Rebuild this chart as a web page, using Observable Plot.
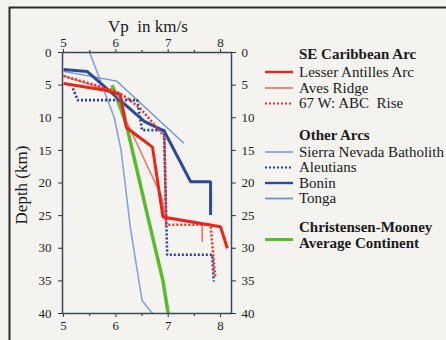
<!DOCTYPE html>
<html><head><meta charset="utf-8">
<script src="https://cdn.jsdelivr.net/npm/d3@7"></script>
<script src="https://cdn.jsdelivr.net/npm/@observablehq/plot@0.6"></script>
<style>
html,body{margin:0;padding:0;background:#f4f3f0;}
#chart{width:446px;height:340px;overflow:hidden;position:relative;}
#chart svg text{font-family:"Liberation Serif","Times New Roman",Times,serif !important;}
</style></head><body><div id="chart"></div>
<script>
// Axis ticks
const xTicks = [5, 6, 7, 8];
const xMinorTicks = [5.5, 6.5, 7.5];
const yTicks = [0, 5, 10, 15, 20, 25, 30, 35, 40];

// Series (Vp in km/s vs depth in km)
const lesserVp    = [5.0, 5.8, 6.08, 6.2, 6.7, 6.9, 8.0, 8.13];
const lesserDepth = [4.75, 5.8, 6.4, 11.5, 14.5, 25.2, 26.7, 30.0];

const avesVp    = [5.0, 5.95, 6.12, 6.2, 6.87, 6.95, 7.65, 7.65];
const avesDepth = [3.6, 6.0, 7.5, 10.5, 22.0, 25.4, 26.3, 29.0];

const abcVp    = [5.0, 5.96, 6.22, 6.47, 6.93, 6.96, 7.81, 7.9];
const abcDepth = [3.6, 5.8, 7.0, 8.6, 12.9, 26.4, 26.4, 34.6];

const sierraVp    = [5.5, 5.97, 6.1, 6.28, 6.5, 6.7];
const sierraDepth = [0, 10, 15, 27, 38, 40];

const aleutVp    = [5.18, 5.27, 6.41, 6.5, 6.92, 6.98, 7.84, 7.87];
const aleutDepth = [5.5, 7.3, 7.3, 11.9, 11.9, 31.0, 31.0, 35.1];

const boninVp    = [5.0, 5.45, 6.55, 6.92, 7.43, 7.81, 7.81];
const boninDepth = [2.6, 2.9, 10.6, 12.0, 19.8, 19.8, 24.9];

const tongaVp    = [5.0, 6.02, 7.3];
const tongaDepth = [2.9, 4.4, 13.9];

const cmVp    = [5.93, 6.2, 6.62, 6.9, 7.0];
const cmDepth = [5.0, 11.0, 25.5, 35.0, 40.0];

const seriesNames = ["Lesser Antilles Arc", "Aves Ridge", "67 W: ABC  Rise",
  "Sierra Nevada Batholith", "Aleutians", "Bonin", "Tonga", "Christensen-Mooney"];

const styles = {
  "Lesser Antilles Arc": {stroke: "#e6261b", strokeWidth: 3},
  "Aves Ridge": {stroke: "#f07868", strokeWidth: 1.6},
  "67 W: ABC  Rise": {stroke: "#e4352a", strokeWidth: 2.6, strokeDasharray: "2,2"},
  "Sierra Nevada Batholith": {stroke: "#86a2dc", strokeWidth: 1.6},
  "Aleutians": {stroke: "#2c3f9e", strokeWidth: 2.6, strokeDasharray: "2,2"},
  "Bonin": {stroke: "#2c4a9a", strokeWidth: 3},
  "Tonga": {stroke: "#6a92d6", strokeWidth: 1.3},
  "Christensen-Mooney": {stroke: "#5cba2e", strokeWidth: 3.5}
};

const seriesData = {
  "Lesser Antilles Arc": [lesserVp, lesserDepth],
  "Aves Ridge": [avesVp, avesDepth],
  "67 W: ABC  Rise": [abcVp, abcDepth],
  "Sierra Nevada Batholith": [sierraVp, sierraDepth],
  "Aleutians": [aleutVp, aleutDepth],
  "Bonin": [boninVp, boninDepth],
  "Tonga": [tongaVp, tongaDepth],
  "Christensen-Mooney": [cmVp, cmDepth]
};

const drawOrder = ["Sierra Nevada Batholith", "Tonga", "Christensen-Mooney", "Aleutians",
  "Bonin", "Aves Ridge", "67 W: ABC  Rise", "Lesser Antilles Arc"];

const lineMarks = drawOrder.map(name => {
  const [vp, dep] = seriesData[name];
  const rows = vp.map((v, i) => ({vp: v, depth: dep[i]}));
  return Plot.line(rows, {x: "vp", y: "depth", ...styles[name], strokeLinejoin: "miter", strokeLinecap: "butt"});
});

const FONT = "Liberation Serif, Times New Roman, serif";
const W = 446, H = 340;
const axisStyle = {fontSize: 13, fontFamily: FONT, tickFormat: d => String(d), label: null, stroke: "#333", color: "#222"};
const plot = Plot.plot({
  width: W, height: H,
  marginLeft: 62, marginRight: 215, marginTop: 52, marginBottom: 27,
  style: {fontFamily: FONT, fontSize: "13px", background: "transparent", color: "#222"},
  x: {domain: [4.98, 8.21]},
  y: {domain: [0, 40], reverse: true},
  marks: [
    Plot.axisX({anchor: "top", ticks: xTicks, tickSize: 4, tickPadding: 2, ...axisStyle}),
    Plot.axisX({anchor: "top", ticks: xMinorTicks, tickSize: 3, tickFormat: () => "", label: null}),
    Plot.axisX({anchor: "bottom", ticks: xTicks, tickSize: 4, tickPadding: 3, ...axisStyle}),
    Plot.axisX({anchor: "bottom", ticks: xMinorTicks, tickSize: 3, tickFormat: () => "", label: null}),
    Plot.axisY({anchor: "left", ticks: yTicks, tickSize: 4, tickPadding: 7, ...axisStyle}),
    Plot.axisY({anchor: "right", ticks: yTicks, tickSize: 4, tickPadding: 6, ...axisStyle}),
    ...lineMarks,
    Plot.frame({stroke: "#3b4658", strokeWidth: 1.5})
  ]
});
document.getElementById("chart").appendChild(plot);

const svg = d3.select(plot);
// outer border
svg.append("rect").attr("x", 9.5).attr("y", 7.5).attr("width", 470).attr("height", 370)
  .attr("fill", "none").attr("stroke", "#2a2a2a").attr("stroke-width", 2);

const txt = (sel) => sel.attr("fill", "#1a1a1a");
// title
txt(svg.append("text")).attr("x", 148).attr("y", 32).attr("text-anchor", "middle")
  .style("font-size", "17px").text("Vp  in km/s");
// y label
txt(svg.append("text")).attr("transform", "translate(27,185) rotate(-90)").attr("text-anchor", "middle")
  .style("font-size", "17px").text("Depth (km)");

// legend
const legendRows = [
  {type: "head", text: "SE Caribbean Arc", y: 59},
  {type: "item", name: "Lesser Antilles Arc", y: 76.5},
  {type: "item", name: "Aves Ridge", y: 92.5},
  {type: "item", name: "67 W: ABC  Rise", y: 108},
  {type: "head", text: "Other Arcs", y: 140},
  {type: "item", name: "Sierra Nevada Batholith", y: 156.5},
  {type: "item", name: "Aleutians", y: 172},
  {type: "item", name: "Bonin", y: 187.5},
  {type: "item", name: "Tonga", y: 203},
  {type: "head", text: "Christensen-Mooney", y: 231.5},
  {type: "head", text: "Average Continent", y: 248},
];
const lg = svg.append("g");
legendRows.forEach(r => {
  const t = txt(lg.append("text")).attr("x", 299).attr("y", r.y)
    .attr("text-anchor", "start").style("text-anchor", "start")
    .style("font-size", "15px").style("white-space", "pre")
    .text(r.type === "head" ? r.text : r.name);
  if (r.type === "head") t.style("font-weight", "bold");
  if (r.type === "item") {
    const s = styles[r.name];
    lg.append("line").attr("x1", 265).attr("x2", 293).attr("y1", r.y - 4.5).attr("y2", r.y - 4.5)
      .attr("stroke", s.stroke).attr("stroke-width", Math.max(s.strokeWidth - 0.6, 1.8))
      .attr("stroke-dasharray", s.strokeDasharray || null);
  }
});
const cm = styles["Christensen-Mooney"];
lg.append("line").attr("x1", 265).attr("x2", 293).attr("y1", 239.5).attr("y2", 239.5)
  .attr("stroke", cm.stroke).attr("stroke-width", cm.strokeWidth - 0.5);
</script>
</body></html>
